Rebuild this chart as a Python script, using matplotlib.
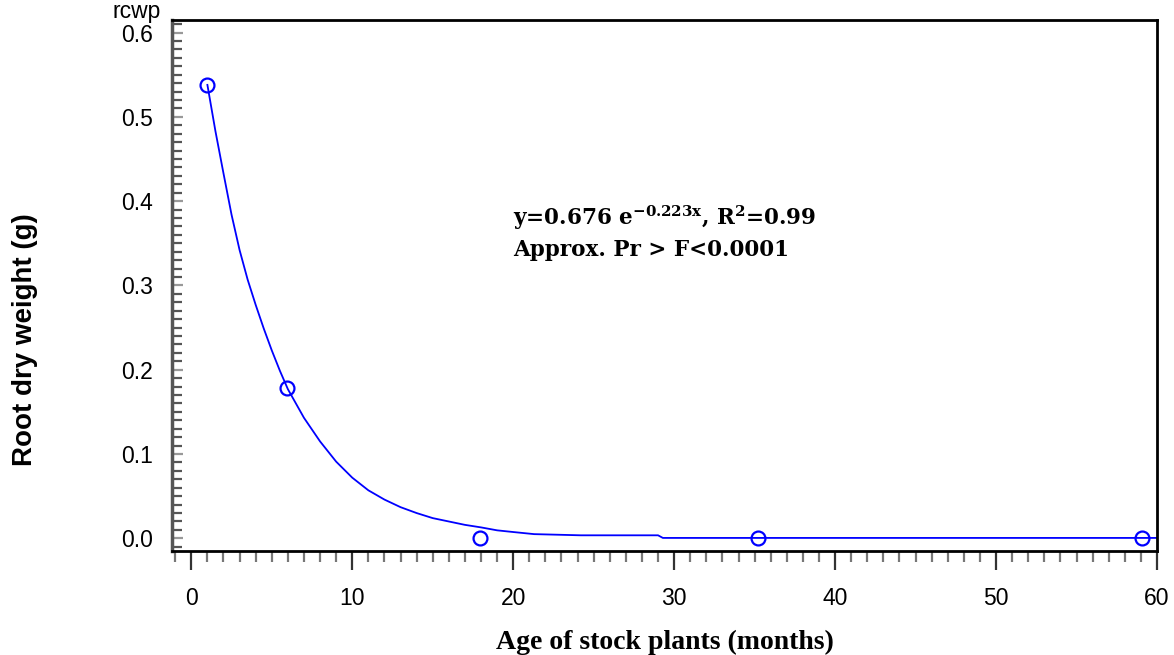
import matplotlib
matplotlib.use('Agg')
import matplotlib.pyplot as plt
from matplotlib.ticker import MultipleLocator

# observed means
age = [1.0, 5.95, 17.95, 35.2, 59.1]
rcwp = [0.538, 0.178, 0.0005, 0.0005, 0.0005]

# fitted curve
curve_x = [1.0, 1.5, 2.0, 2.5, 3.0, 3.5, 4.0, 4.5, 5.0, 5.5, 6.0, 7.0, 8.0, 9.0,
           10.0, 11.0, 12.0, 13.0, 14.0, 15.0, 16.0, 17.0, 18.0, 19.0, 20.0,
           21.3, 24.2, 29.0, 29.3, 60.0]
curve_y = [0.538, 0.483, 0.433, 0.384, 0.342, 0.307, 0.277, 0.249, 0.223, 0.199,
           0.177, 0.143, 0.115, 0.091, 0.072, 0.057, 0.046, 0.037, 0.030, 0.024,
           0.020, 0.016, 0.013, 0.0095, 0.0075, 0.005, 0.0036, 0.0036, 0.0005,
           0.0005]

eq_line = r'y=0.676 e$^{\mathregular{-0.223x}}$, R$^{\mathregular{2}}$=0.99'
p_line = 'Approx. Pr > F<0.0001'

fig = plt.figure(figsize=(11.74, 6.55), dpi=100)
ax = fig.add_axes([0.1465, 0.1588, 0.8390, 0.8107])

ax.plot(curve_x, curve_y, color='#0000ff', linewidth=1.3)
ax.plot(age, rcwp, linestyle='none', marker='o', markersize=10,
        markerfacecolor='none', markeredgecolor='#0000ff', markeredgewidth=1.6)

ax.xaxis.set_major_locator(MultipleLocator(10))
ax.xaxis.set_minor_locator(MultipleLocator(1))
ax.yaxis.set_major_locator(MultipleLocator(0.1))
ax.yaxis.set_minor_locator(MultipleLocator(0.01))
ax.set_xlim(-1.2, 60.0)
ax.set_ylim(-0.015, 0.615)
ax.yaxis.set_major_formatter(plt.FuncFormatter(lambda v, p: '%.1f' % v))

tick_font = ['Liberation Sans Narrow', 'Liberation Sans', 'DejaVu Sans']
for lab in ax.get_xticklabels() + ax.get_yticklabels():
    lab.set_family(tick_font)
    lab.set_fontsize(16.5)

ax.tick_params(axis='x', which='major', direction='out', length=14, width=1.6,
               color='#333333', pad=12)
ax.tick_params(axis='x', which='minor', direction='out', length=8, width=1.6,
               color='#777777')
ax.tick_params(axis='y', which='major', direction='in', length=8, width=1.6,
               color='#999999', pad=14)
ax.tick_params(axis='y', which='minor', direction='in', length=7, width=1.6,
               color='#555555')

for side in ['top', 'right', 'bottom']:
    ax.spines[side].set_linewidth(2)
    ax.spines[side].set_color('black')
ax.spines['left'].set_linewidth(2.5)
ax.spines['left'].set_color('#555555')

ax.set_xlabel('Age of stock plants (months)', family='Liberation Serif',
              fontweight='bold', fontsize=20, labelpad=14)
fig.text(0.021, 0.481, 'Root dry weight (g)', rotation=90, family='Liberation Sans',
         fontweight='bold', fontsize=20, ha='center', va='center')
fig.text(0.0955, 0.965, 'rcwp', family=tick_font, fontsize=16.5,
         ha='left', va='bottom')

ax.text(20.0, 0.380, eq_line, family='DejaVu Serif', fontweight='bold',
        fontsize=15.5, ha='left', va='center')
ax.text(20.0, 0.342, p_line, family='DejaVu Serif', fontweight='bold',
        fontsize=15.5, ha='left', va='center')

fig.savefig('out.png', dpi=100)
